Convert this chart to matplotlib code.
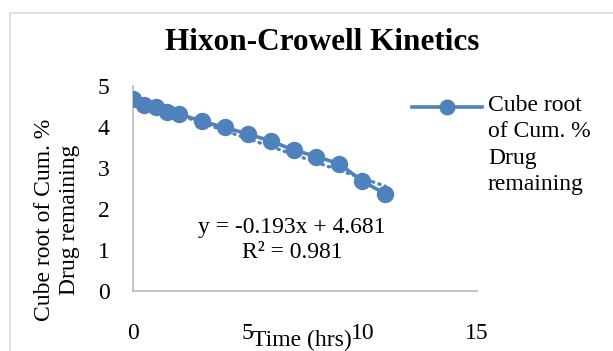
import numpy as np
import matplotlib
matplotlib.use("Agg")
import matplotlib.pyplot as plt
from matplotlib.lines import Line2D
from matplotlib.patches import Rectangle

# data
time_hrs = [0, 0.5, 1, 1.5, 2, 3, 4, 5, 6, 7, 8, 9, 10, 11]
cube_root = [4.68, 4.54, 4.48, 4.36, 4.32, 4.14, 3.99, 3.83, 3.66,
             3.44, 3.28, 3.10, 2.68, 2.37]
trend_slope = -0.193
trend_icept = 4.681
r_squared = 0.981

x_ticks = [0, 5, 10, 15]
y_ticks = [0, 1, 2, 3, 4, 5]

BLUE = "#4F81BD"
FONT = "Liberation Serif"
plt.rcParams["font.family"] = FONT

W, H = 613, 351
fig = plt.figure(figsize=(W / 100, H / 100), dpi=100)

# light grey chart border (left and top visible)
fig.add_artist(Rectangle((10 / W, -0.1), 1.2, (H - 13) / H + 0.1,
                         transform=fig.transFigure, fill=False,
                         edgecolor="#D9D9D9", linewidth=1.2))

ax = fig.add_axes([133 / W, (H - 291) / H, 344 / W, 205 / H])

ax.plot(time_hrs, cube_root, color=BLUE, linewidth=2.6, marker="o",
        markersize=11.5, zorder=3)

tx = np.array([time_hrs[0], time_hrs[-1]])
ax.plot(tx, trend_slope * tx + trend_icept, color=BLUE, linewidth=2.4,
        linestyle=(0, (0.4, 1.6)), dash_capstyle="round", zorder=2)

ax.set_xlim(0, 15)
ax.set_ylim(0, 5)
ax.set_xticks(x_ticks)
ax.set_yticks(y_ticks)
ax.tick_params(length=0, labelsize=17)
ax.tick_params(axis="y", pad=17)
ax.tick_params(axis="x", pad=23)
for s in ["top", "right"]:
    ax.spines[s].set_visible(False)
for s in ["left", "bottom"]:
    ax.spines[s].set_color("#BFBFBF")
    ax.spines[s].set_linewidth(1.3)

ax.set_xlabel("Time (hrs)", fontsize=17, va="center")
ax.xaxis.set_label_coords(0.491, -0.24)
ax.set_ylabel("Cube root of Cum. %\nDrug remaining", fontsize=17,
              va="center", ha="center", linespacing=1.3)
ax.yaxis.set_label_coords(-0.221, 0.346)

ax.text(6.93, 1.56, f"y = {trend_slope}x + {trend_icept}", fontsize=17,
        ha="center", va="center")
ax.text(6.93, 0.93, f"R² = {r_squared}", fontsize=17,
        ha="center", va="center")

fig.text(322 / W, (H - 43) / H, "Hixon-Crowell Kinetics", fontsize=22.5,
         fontweight="bold", ha="center", va="center")

# legend drawn by hand so the marker sits on the first text line
ly = (H - 107) / H
fig.add_artist(Line2D([412 / W, 482 / W], [ly, ly], color=BLUE,
                      linewidth=2.6, transform=fig.transFigure))
fig.add_artist(Line2D([447 / W], [ly], color=BLUE, marker="o",
                      markersize=10.5, transform=fig.transFigure))
fig.text(488 / W, (H - 95) / H, "Cube root\nof Cum. %\nDrug\nremaining",
         fontsize=17, ha="left", va="top", linespacing=1.33)

fig.savefig("out.png", dpi=100)
